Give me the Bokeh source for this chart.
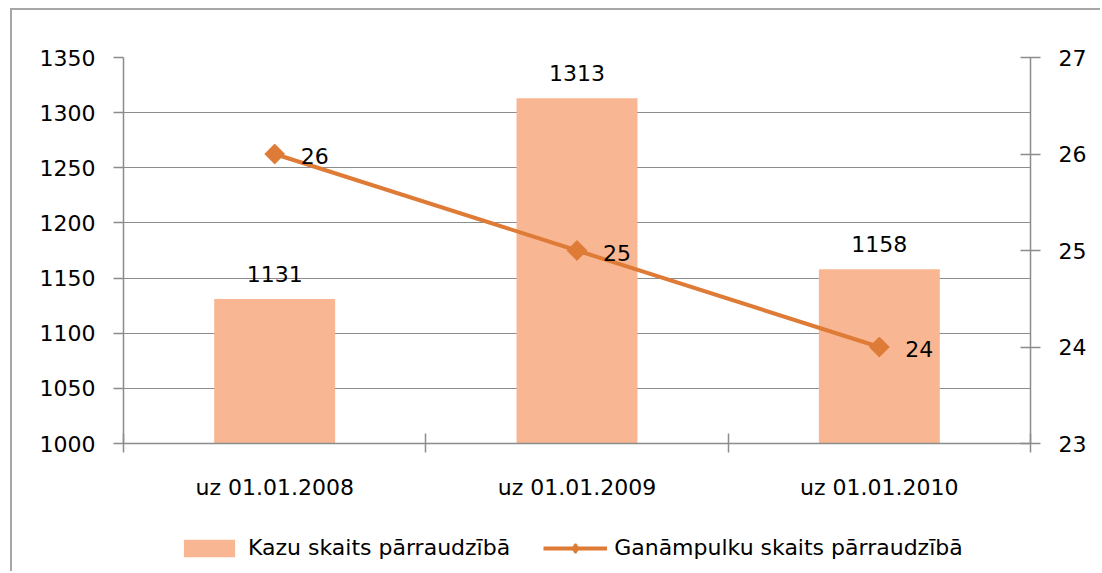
from bokeh.plotting import figure
from bokeh.layouts import column
from bokeh.models import (Range1d, LinearAxis, FixedTicker, ColumnDataSource, LabelSet,
                          Legend, LegendItem)
from bokeh.core.properties import value
from bokeh.embed import file_html
from bokeh.resources import INLINE
import math

# ---- data ----
categories = ["uz 01.01.2008", "uz 01.01.2009", "uz 01.01.2010"]
kazu = [1131, 1313, 1158]
ganampulku = [26, 25, 24]
left_ticks = [1000, 1050, 1100, 1150, 1200, 1250, 1300, 1350]
right_ticks = [23, 24, 25, 26, 27]
series_names = ["Kazu skaits pārraudzībā", "Ganāmpulku skaits pārraudzībā"]

BAR = "#F8B692"
LINE = "#DE7B37"
AX = "#8C8C8C"
FONT = "DejaVu Sans"
FS = "22px"

xs = [i + 0.5 for i in range(len(categories))]
bounds = list(range(len(categories) + 1))

src = ColumnDataSource(dict(
    x=xs, kazu=kazu, gan=ganampulku,
    kazu_t=[str(v) for v in kazu], gan_t=[str(v) for v in ganampulku]))

W = 1088
p = figure(width=W, height=503, output_backend="svg", toolbar_location=None,
           x_range=Range1d(bounds[0], bounds[-1]),
           y_range=Range1d(left_ticks[0], left_ticks[-1]),
           min_border_left=111, min_border_right=70, min_border_top=47, min_border_bottom=70)
p.extra_y_ranges = {"right": Range1d(right_ticks[0], right_ticks[-1])}
p.outline_line_color = None
p.background_fill_color = "white"
p.border_fill_color = "white"

# bars
bars = p.vbar(x="x", top="kazu", bottom=left_ticks[0], width=0.4, source=src,
              fill_color=BAR, line_color=None)
# line
ln = p.line(x="x", y="gan", source=src, y_range_name="right", line_color=LINE, line_width=4)
mk = p.scatter(x="x", y="gan", source=src, y_range_name="right", marker="square",
               angle=math.pi / 4, size=14, fill_color=LINE, line_color=LINE)

# axes
xa = p.xaxis[0]
xa.ticker = FixedTicker(ticks=xs, minor_ticks=bounds)
xa.major_label_overrides = {x: c for x, c in zip(xs, categories)}
xa.major_tick_in = 0
xa.major_tick_out = 0
xa.minor_tick_in = 10
xa.minor_tick_out = 9
xa.minor_tick_line_color = AX
xa.minor_tick_line_width = 1.5
xa.axis_line_color = AX
xa.axis_line_width = 1.5
xa.major_label_standoff = 22

ya = p.yaxis[0]
ya.ticker = FixedTicker(ticks=left_ticks)
ya.major_tick_in = 0
ya.major_tick_out = 10
ya.major_tick_line_color = AX
ya.major_tick_line_width = 1.5
ya.minor_tick_line_color = None
ya.axis_line_color = AX
ya.axis_line_width = 1.5
ya.major_label_standoff = 18

ra = LinearAxis(y_range_name="right", ticker=FixedTicker(ticks=right_ticks))
ra.major_tick_in = 10
ra.major_tick_out = 10
ra.major_tick_line_color = AX
ra.major_tick_line_width = 1.5
ra.minor_tick_line_color = None
ra.axis_line_color = AX
ra.axis_line_width = 1.5
ra.major_label_standoff = 18
p.add_layout(ra, "right")

for ax in (xa, ya, ra):
    ax.major_label_text_font = FONT
    ax.major_label_text_font_size = FS
    ax.major_label_text_color = "black"

p.xgrid.grid_line_color = None
p.ygrid.ticker = FixedTicker(ticks=left_ticks)
p.ygrid.grid_line_color = AX
p.ygrid.grid_line_width = 1.2

# data labels
bl = LabelSet(x="x", y="kazu", text="kazu_t", source=src, text_align="center",
              text_baseline="bottom", y_offset=17, text_font=value(FONT),
              text_font_size=value(FS), text_color="black")
ll = LabelSet(x="x", y="gan", text="gan_t", source=src, y_range_name="right",
              text_align="left", text_baseline="middle", x_offset=26, y_offset=-2,
              text_font=value(FONT), text_font_size=value(FS), text_color="black")
p.add_layout(bl)
p.add_layout(ll)

# ---- legend strip (separate figure below the chart) ----
p2 = figure(width=W, height=58, output_backend="svg", toolbar_location=None,
            x_range=Range1d(0, 1), y_range=Range1d(0, 1),
            x_axis_location=None, y_axis_location=None,
            min_border_left=0, min_border_right=0, min_border_top=0, min_border_bottom=0)
p2.outline_line_color = None
p2.grid.grid_line_color = None
p2.border_fill_color = "white"
lb = p2.vbar(x="x", top="kazu", bottom=left_ticks[0], width=0.4, source=src,
             fill_color=BAR, line_color=None, visible=False)
lln = p2.line(x="x", y="gan", source=src, line_color=LINE, line_width=4, visible=False)
lmk = p2.scatter(x="x", y="gan", source=src, marker="diamond",
                 fill_color=LINE, line_color=LINE, line_width=2, visible=False)

legend = Legend(items=[LegendItem(label=series_names[0], renderers=[lb]),
                       LegendItem(label=series_names[1], renderers=[lln, lmk])],
                orientation="horizontal", location=(54, 11),
                glyph_width=64, glyph_height=22, label_standoff=7, spacing=33,
                padding=0, margin=0, border_line_alpha=0, background_fill_alpha=0,
                label_text_font=FONT, label_text_font_size=FS, label_text_color="black")
p2.add_layout(legend)

layout = column(p, p2, spacing=0,
                styles={"margin-left": "10px", "margin-top": "8px",
                        "border-left": "2px solid #A6A6A6", "border-top": "2px solid #A6A6A6"})

open("out.html", "w").write(file_html(layout, INLINE))
